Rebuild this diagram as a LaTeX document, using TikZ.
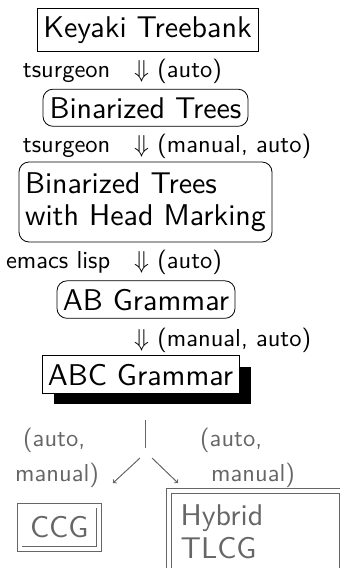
\RequirePackage{fix-cm}
\documentclass[tikz,border=0pt]{standalone}
\usepackage{fontspec}
\setsansfont{lmsans10-regular.otf}
\renewcommand{\familydefault}{\sfdefault}
\usetikzlibrary{shadows}
\definecolor{dimgrey}{gray}{0.40}
\begin{document}
\begin{tikzpicture}[x=1pt,y=-1pt,
  lbl/.style={font=\sffamily\fontsize{24.5}{29}\selectfont, inner sep=0pt},
  bigtext/.style={font=\sffamily\fontsize{30}{32.5}\selectfont},
  sqbox/.style={bigtext, draw, line width=0.8pt, inner xsep=0pt, inner ysep=8pt, fill=white},
  rbox/.style={sqbox, rounded corners=10pt},
  dframe/.style={bigtext, draw=dimgrey, text=dimgrey, line width=0.9pt,
                 double, double distance=4pt, inner sep=0pt},
  faded/.style={lbl, text=dimgrey},
  fadedline/.style={draw=dimgrey, line width=1pt},
]
\clip (0,0) rectangle (340,568);

% conversion pipeline
\node (keyaki) [sqbox, anchor=base, minimum width=221pt] at (147.5,37) {Keyaki Treebank};
\node (t1) [lbl, anchor=base east] at (110.5,77) {tsurgeon};
\node (a1) [lbl, anchor=base west] at (134,77) {$\Downarrow$ (auto)};

\node (bin) [rbox, anchor=base, minimum width=205pt] at (145.5,118) {Binarized Trees};
\node (t2) [lbl, anchor=base east] at (110.5,152) {tsurgeon};
\node (a2) [lbl, anchor=base west] at (134,152) {$\Downarrow$ (manual, auto)};

\node (head) [rbox, align=left, minimum width=253pt, minimum height=80pt] at (145.5,202)
  {Binarized Trees\\with Head Marking};
\node (t3) [lbl, anchor=base east] at (110.5,268) {emacs lisp};
\node (a3) [lbl, anchor=base west] at (134,268) {$\Downarrow$ (auto)};

\node (ab) [rbox, anchor=base, minimum width=178pt] at (146,310) {AB Grammar};
\node (a4) [lbl, anchor=base west] at (134,346) {$\Downarrow$ (manual, auto)};

\node (abc) [sqbox, anchor=base, minimum width=197pt,
  general shadow={fill=black, shadow xshift=11.5pt, shadow yshift=-11pt}]
  at (140.5,385) {ABC Grammar};

% branching to the two target grammars
\coordinate (bartop) at (145,420);
\coordinate (barbot) at (145,448);
\coordinate (lfrom) at (140,458);
\coordinate (lto) at (113,483);
\coordinate (rfrom) at (152,458);
\coordinate (rto) at (178,483);
\draw[fadedline] (bartop) -- (barbot);
\draw[fadedline, -to] (lfrom) -- (lto);
\draw[fadedline, -to] (rfrom) -- (rto);

\node (l1) [faded, anchor=base west] at (23,446) {(auto,};
\node (l2) [faded, anchor=base west] at (15,481) {manual)};
\node (r1) [faded, anchor=base west] at (200,446) {(auto,};
\node (r2) [faded, anchor=base west] at (211,481) {manual)};

\node (ccg) [dframe, minimum width=79.5pt, minimum height=43.5pt] at (59.25,527.25) {CCG};
\node (tlcg) [dframe, anchor=north west, align=left, text width=150pt,
  minimum width=173.3pt, minimum height=81.5pt] at (168.5,490.5) {Hybrid\\TLCG};
\end{tikzpicture}
\end{document}
